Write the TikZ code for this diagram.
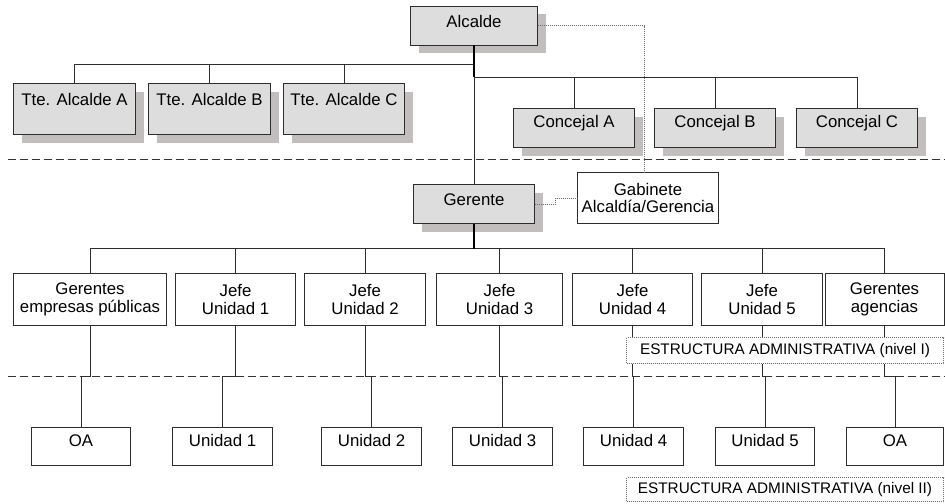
\documentclass[tikz,border=0pt]{standalone}
\usepackage{fontspec}
\setmainfont{Liberation Sans}
\usetikzlibrary{shadows}
\definecolor{boxgray}{RGB}{221,221,221}
\definecolor{shadowgray}{RGB}{194,190,190}
\definecolor{linegray}{RGB}{45,45,45}
\definecolor{dotgray}{RGB}{110,110,110}
\begin{document}
\begin{tikzpicture}[x=0.75pt,y=-0.75pt,
  font=\fontsize{12.6}{13}\selectfont,
  every node/.style={inner sep=0pt, outer sep=0pt},
  dim/.style 2 args={minimum width=#1*0.75pt, minimum height=#2*0.75pt},
  box/.style={draw=linegray, line width=0.75pt, fill=white, align=center},
  gbox/.style={box, fill=boxgray,
    drop shadow={shadow xshift=6pt, shadow yshift=-6pt, fill=shadowgray, opacity=1}},
  conn/.style={draw=linegray, line width=0.75pt},
  trunk/.style={draw=black, line width=1.5pt},
  link/.style={draw=dotgray, line width=0.75pt, dash pattern=on 0.75pt off 0.75pt},
  tag/.style={draw=dotgray, line width=0.75pt, dash pattern=on 0.75pt off 0.75pt,
    fill=white, font=\fontsize{11.5}{13}\selectfont},
  sep/.style={draw=black!80, line width=1.1pt, dash pattern=on 6pt off 3pt},
]
\useasboundingbox (0,0) rectangle (945,503);

% half-pixel shift keeps the 1px rules crisp
\begin{scope}[shift={(0.5,0.5)}]
% level separators
\coordinate (s1l) at (7,159);  \coordinate (s1r) at (945,159);
\coordinate (s2l) at (7,376);  \coordinate (s2r) at (945,376);
\draw[sep] (s1l) -- (s1r);
\draw[sep] (s2l) -- (s2r);

% political level
\node[gbox, dim={127}{39}, text depth=6.4pt] (alc) at (473.5,25.5) {Alcalde};
\node[gbox, dim={122}{51}, text depth=14pt] (tteA) at (74,108.5) {Tte. Alcalde A};
\node[gbox, dim={122}{51}, text depth=14pt] (tteB) at (209,108.5) {Tte. Alcalde B};
\node[gbox, dim={121}{51}, text depth=14pt] (tteC) at (343.5,108.5) {Tte. Alcalde C};
\node[gbox, dim={121}{39}, text depth=9.5pt] (conA) at (573.5,127.5) {Concejal A};
\node[gbox, dim={121}{39}, text depth=9.5pt] (conB) at (714.5,127.5) {Concejal B};
\node[gbox, dim={121}{39}, text depth=9.5pt] (conC) at (856.5,127.5) {Concejal C};

% management
\node[gbox, dim={121}{39}, text depth=6pt] (ger) at (473.5,203.5) {Gerente};
\node[box, dim={141}{51}] (gab) at (647.5,197.5) {Gabinete\\Alcaldía/Gerencia};

% administrative level I
\node[box, dim={153}{52}] (ge) at (89.5,299) {Gerentes\\empresas públicas};
\node[box, dim={120}{52}] (j1) at (235,299) {Jefe\\Unidad 1};
\node[box, dim={121}{52}] (j2) at (364.5,299) {Jefe\\Unidad 2};
\node[box, dim={126}{52}] (j3) at (499,299) {Jefe\\Unidad 3};
\node[box, dim={120}{52}] (j4) at (632,299) {Jefe\\Unidad 4};
\node[box, dim={121}{52}] (j5) at (761.5,299) {Jefe\\Unidad 5};
\node[box, dim={119}{52}] (ga) at (884,299) {Gerentes\\agencias};

% administrative level II
\node[box, dim={99}{38}, text depth=9pt] (oa1) at (80.5,446) {OA};
\node[box, dim={100}{38}, text depth=9pt] (u1) at (222,446) {Unidad 1};
\node[box, dim={100}{38}, text depth=9pt] (u2) at (371,446) {Unidad 2};
\node[box, dim={100}{38}, text depth=9pt] (u3) at (502,446) {Unidad 3};
\node[box, dim={100}{38}, text depth=9pt] (u4) at (633,446) {Unidad 4};
\node[box, dim={99}{38}, text depth=9pt] (u5) at (764.5,446) {Unidad 5};
\node[box, dim={97}{38}, text depth=9pt] (oa2) at (894.5,446) {OA};

% Alcalde branches
\draw[conn] (alc.south) -- ++(0,19) -| (tteA.north);
\draw[conn] (alc.south) -- ++(0,19) -| (tteB.north);
\draw[conn] (alc.south) -- ++(0,19) -| (tteC.north);
\draw[conn] (alc.south) -- ++(0,32) -| (conA.north);
\draw[conn] (alc.south) -- ++(0,32) -| (conB.north);
\draw[conn] (alc.south) -- ++(0,32) -| (conC.north);
\draw[conn] (alc.south) -- (ger.north);
\draw[trunk] (alc.south) -- ++(0,32);

% Gerente branches
\foreach \n in {ge,j1,j2,j3,j4,j5,ga}
  \draw[conn] (ger.south) -- ++(0,25) -| (\n.north);
\draw[trunk] (ger.south) -- ++(0,25);

% units
\foreach \a/\b in {ge/oa1,j1/u1,j2/u2,j3/u3,j4/u4,j5/u5,ga/oa2}
  \draw[conn] (\a.south) -- ++(0,51) -| (\b.north);

% advisory links
\draw[link] (alc.east) -| ([xshift=-3pt]gab.north);
\draw[link] (ger.east) -- ++(21,0) |- (gab.west);

% level tags
\node[tag, dim={317}{26}] (tag1) at (784.5,350) {ESTRUCTURA ADMINISTRATIVA (nivel I)};
\node[tag, dim={317}{24}] (tag2) at (784.5,489) {ESTRUCTURA ADMINISTRATIVA (nivel II)};
\end{scope}
\end{tikzpicture}
\end{document}
